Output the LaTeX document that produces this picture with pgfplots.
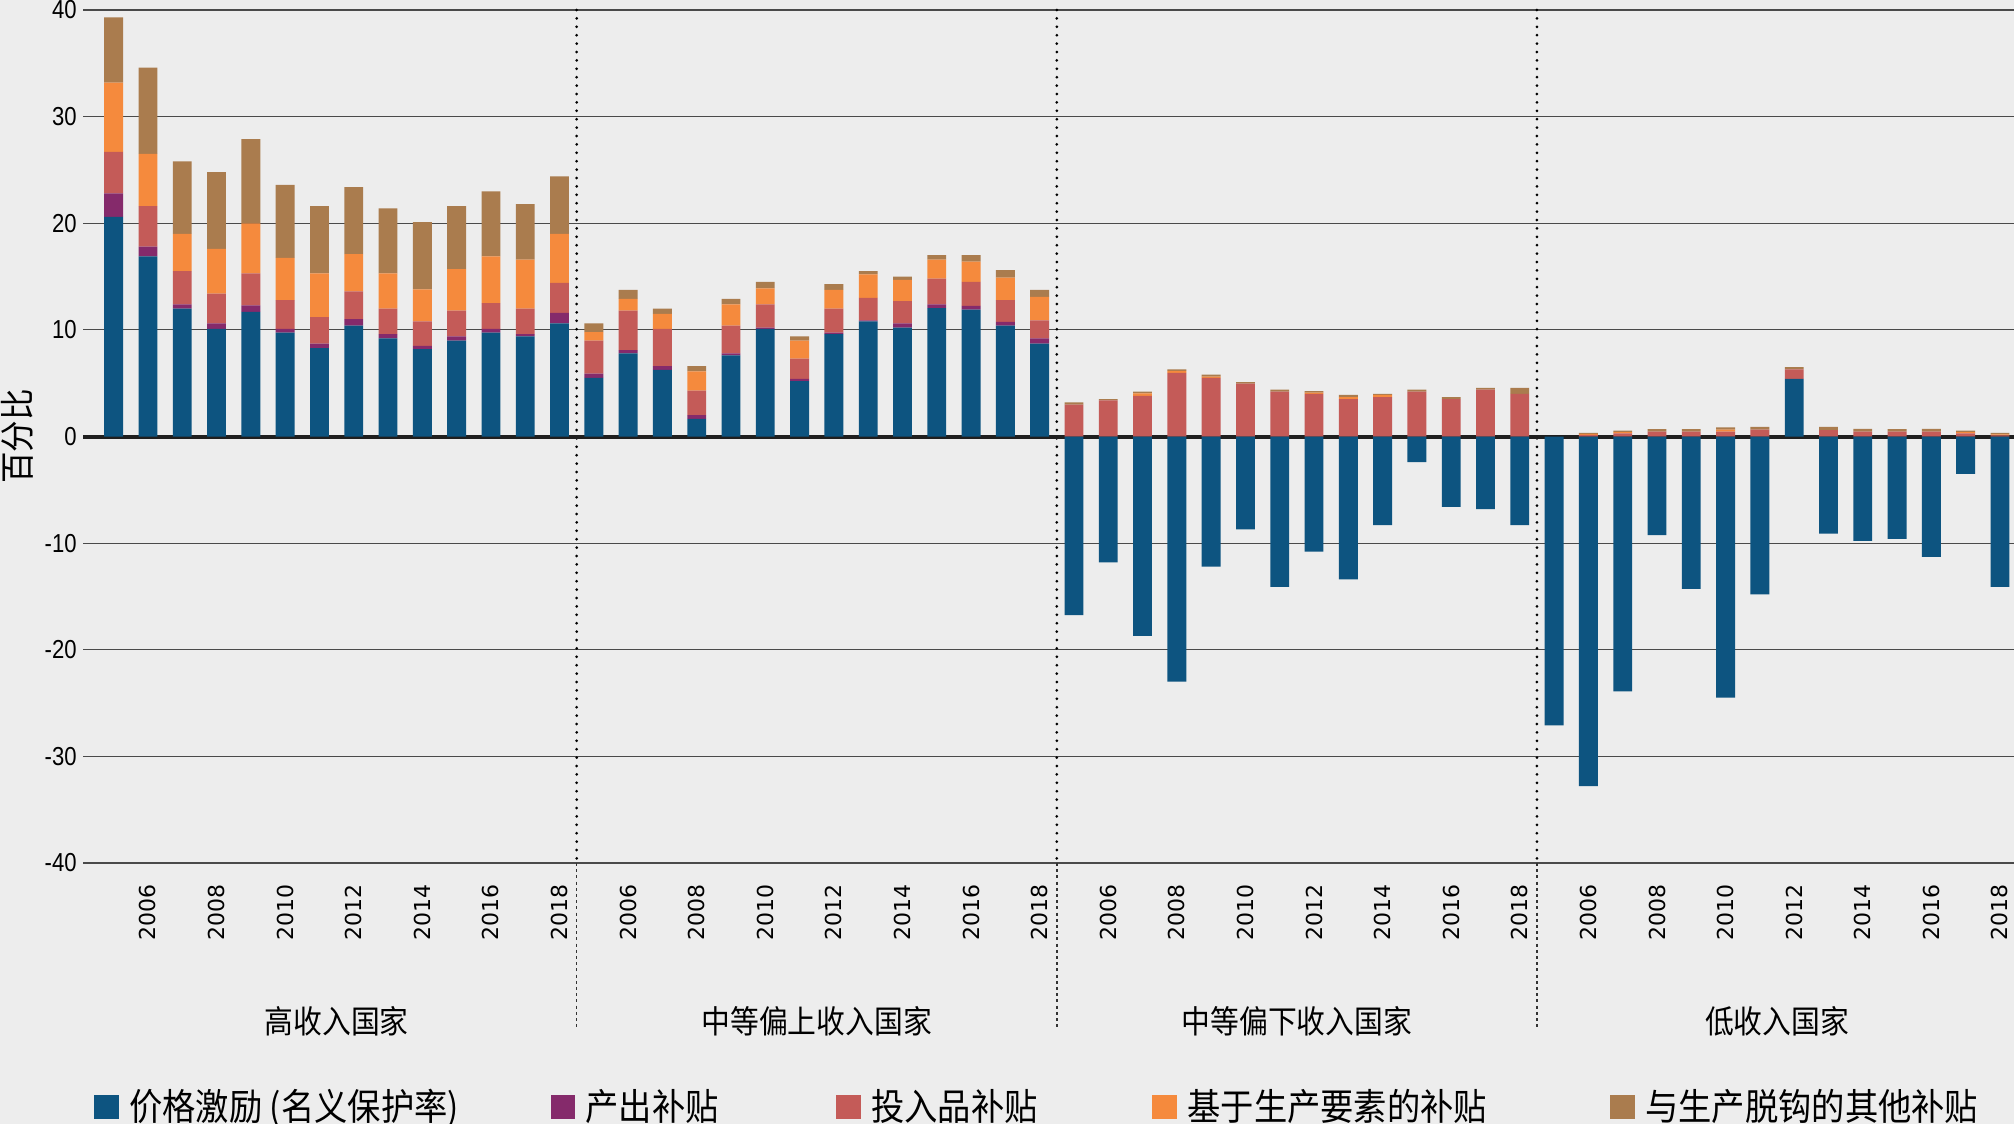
\documentclass[border=0pt]{standalone}
\usepackage{pgfplots}
\pgfplotsset{compat=1.18}
\usepackage{pgfplotstable}
\usepackage{fontspec}
\setmainfont{Noto Sans CJK SC}
\newfontfamily\cjk[FakeStretch=0.9]{Noto Sans CJK SC}
\newfontfamily\yfont[FakeStretch=0.85]{Liberation Sans}
\newfontfamily\xfont{DejaVu Sans}
\definecolor{cblue}{HTML}{0D5480}
\definecolor{cpur}{HTML}{852A6B}
\definecolor{cred}{HTML}{C45B58}
\definecolor{cora}{HTML}{F58A3D}
\definecolor{cbro}{HTML}{AA7C4E}
\definecolor{bg}{HTML}{EDEDED}
\definecolor{gridc}{HTML}{4A4A4A}

\pgfplotstableread{
x bneg bpos pur red ora bro
0 0 20.6 2.2 3.9 6.5 6.1
1 0 16.9 0.9 3.8 4.9 8.1
2 0 12.0 0.4 3.1 3.5 6.8
3 0 10.1 0.5 2.8 4.2 7.2
4 0 11.7 0.6 3.0 4.7 7.9
5 0 9.75 0.35 2.7 3.95 6.85
6 0 8.3 0.4 2.5 4.1 6.3
7 0 10.4 0.6 2.6 3.5 6.3
8 0 9.2 0.4 2.4 3.3 6.1
9 0 8.2 0.3 2.3 3.0 6.3
10 0 9.0 0.4 2.4 3.9 5.9
11 0 9.75 0.35 2.4 4.4 6.1
12 0 9.4 0.2 2.4 4.6 5.2
13 0 10.6 1.0 2.8 4.6 5.4
14 0 5.5 0.4 3.1 0.8 0.8
15 0 7.8 0.3 3.7 1.1 0.85
16 0 6.25 0.35 3.5 1.4 0.5
17 0 1.65 0.35 2.3 1.8 0.5
18 0 7.6 0.2 2.6 2.0 0.5
19 0 10.1 0.1 2.2 1.5 0.6
20 0 5.2 0.2 1.9 1.7 0.4
21 0 9.6 0.15 2.25 1.75 0.55
22 0 10.8 0.1 2.1 2.2 0.3
23 0 10.2 0.4 2.1 2.0 0.3
24 0 12.05 0.35 2.4 1.8 0.4
25 0 11.9 0.35 2.25 1.9 0.6
26 0 10.4 0.35 2.05 2.1 0.7
27 0 8.7 0.5 1.7 2.2 0.65
28 -16.75 0 0 3.0 0 0.2
29 -11.8 0 0 3.4 0 0.1
30 -18.7 0 0 3.8 0.25 0.15
31 -23.0 0 0 5.97 0.18 0.15
32 -12.2 0 0 5.5 0.12 0.18
33 -8.7 0 0 4.97 0 0.13
34 -14.1 0 0 4.2 0 0.2
35 -10.8 0 0 4.0 0.12 0.13
36 -13.4 0 0 3.5 0.2 0.2
37 -8.3 0 0 3.7 0.2 0.1
38 -2.4 0 0 4.2 0 0.2
39 -6.6 0 0 3.5 0 0.2
40 -6.8 0 0 4.4 0 0.15
41 -8.3 0 0 4.0 0 0.55
42 -27.1 0 0 0 0 0
43 -32.8 0 0 0.15 0.1 0.1
44 -23.9 0 0 0.3 0.1 0.15
45 -9.25 0 0 0.45 0 0.25
46 -14.3 0 0 0.45 0 0.25
47 -24.5 0 0 0.45 0.2 0.2
48 -14.8 0 0 0.65 0 0.25
49 0 5.4 0 0.9 0 0.2
50 -9.1 0 0 0.6 0 0.3
51 -9.8 0 0 0.45 0 0.27
52 -9.6 0 0 0.45 0 0.25
53 -11.3 0 0 0.45 0 0.27
54 -3.5 0 0 0.3 0.1 0.15
55 -14.1 0 0 0.1 0.1 0.15
}\data

\begin{document}
\begin{tikzpicture}
\useasboundingbox (0,0) rectangle (1007pt,562pt);
\fill[bg] (0,0) rectangle (1007pt,562pt);
\begin{axis}[
  at={(41.75pt,130.5pt)}, anchor=south west,
  width=965.25pt, height=426.5pt, scale only axis,
  xmin=-0.88, xmax=55.41, ymin=-40, ymax=40,
  clip=false,
  ybar stacked, bar width=0.55,
  axis line style={draw=none},
  major tick length=0pt,
  ymajorgrids, grid style={gridc, line width=0.6pt},
  ytick={-40,-30,...,40},
  yticklabels={-40,-30,-20,-10,0,10,20,30,40},
  yticklabel style={font=\yfont\fontsize{13pt}{14pt}\selectfont, anchor=east, inner sep=0pt},
  yticklabel shift=3.25pt,
  xtick={1,3,...,55},
  xticklabels={2006,2008,2010,2012,2014,2016,2018,2006,2008,2010,2012,2014,2016,2018,2006,2008,2010,2012,2014,2016,2018,2006,2008,2010,2012,2014,2016,2018},
  xticklabel style={font=\xfont\fontsize{11pt}{12pt}\selectfont, rotate=90, anchor=east, inner sep=0pt},
  xticklabel shift=10.5pt,
  ylabel={百分比},
  ylabel style={font=\cjk\fontsize{17.5pt}{18pt}\selectfont, at={(axis description cs:-0.0344,0.5)}, anchor=center},
  legend columns=5,
  legend cell align=left,
  legend image code/.code={\fill[#1] (0pt,-6.1pt) rectangle (12.2pt,6.1pt);},
  legend style={font=\cjk\fontsize{18.5pt}{20pt}\selectfont, draw=none, fill=none, inner sep=0pt,
    at={(axis description cs:0.00534,-0.2858)}, anchor=west,
    nodes={inner sep=0pt},
    /tikz/every odd column/.append style={column sep=5.3pt},
    /tikz/every even column/.append style={column sep=0pt}},
]
\addplot[fill=cblue, draw=none, forget plot] table[x=x, y=bneg] {\data};
\addplot[fill=cblue, draw=none] table[x=x, y=bpos] {\data};
\addlegendentry{\makebox[210.7pt][l]{价格激励 (名义保护率)}}
\addplot[fill=cpur, draw=none] table[x=x, y=pur] {\data};
\addlegendentry{\makebox[125.3pt][l]{产出补贴}}
\addplot[fill=cred, draw=none] table[x=x, y=red] {\data};
\addlegendentry{\makebox[140.6pt][l]{投入品补贴}}
\addplot[fill=cora, draw=none] table[x=x, y=ora] {\data};
\addlegendentry{\makebox[211.4pt][l]{基于生产要素的补贴}}
\addplot[fill=cbro, draw=none] table[x=x, y=bro] {\data};
\addlegendentry{与生产脱钩的其他补贴}
\draw[line width=2pt, black!88] (rel axis cs:0,0.5) -- (rel axis cs:1,0.5);
\draw[black, line width=1.5pt, line cap=round, dash pattern=on 0pt off 4.2pt] (axis cs:13.5,40) -- (axis cs:13.5,-40);
\draw[black, line width=1.5pt, line cap=round, dash pattern=on 0pt off 4.2pt] (axis cs:27.5,40) -- (axis cs:27.5,-40);
\draw[black, line width=1.5pt, line cap=round, dash pattern=on 0pt off 4.2pt] (axis cs:41.5,40) -- (axis cs:41.5,-40);
\draw[black!80, line width=0.8pt, dash pattern=on 1.5pt off 1.6pt] (axis cs:13.5,-40) -- (axis cs:13.5,-55.4);
\draw[black!80, line width=0.8pt, dash pattern=on 1.5pt off 1.6pt] (axis cs:27.5,-40) -- (axis cs:27.5,-55.4);
\draw[black!80, line width=0.8pt, dash pattern=on 1.5pt off 1.6pt] (axis cs:41.5,-40) -- (axis cs:41.5,-55.4);
\node[font=\cjk\fontsize{16pt}{17pt}\selectfont] at (axis cs:6.5,-54.85) {高收入国家};
\node[font=\cjk\fontsize{16pt}{17pt}\selectfont] at (axis cs:20.5,-54.85) {中等偏上收入国家};
\node[font=\cjk\fontsize{16pt}{17pt}\selectfont] at (axis cs:34.5,-54.85) {中等偏下收入国家};
\node[font=\cjk\fontsize{16pt}{17pt}\selectfont] at (axis cs:48.5,-54.85) {低收入国家};
\end{axis}
\end{tikzpicture}
\end{document}
